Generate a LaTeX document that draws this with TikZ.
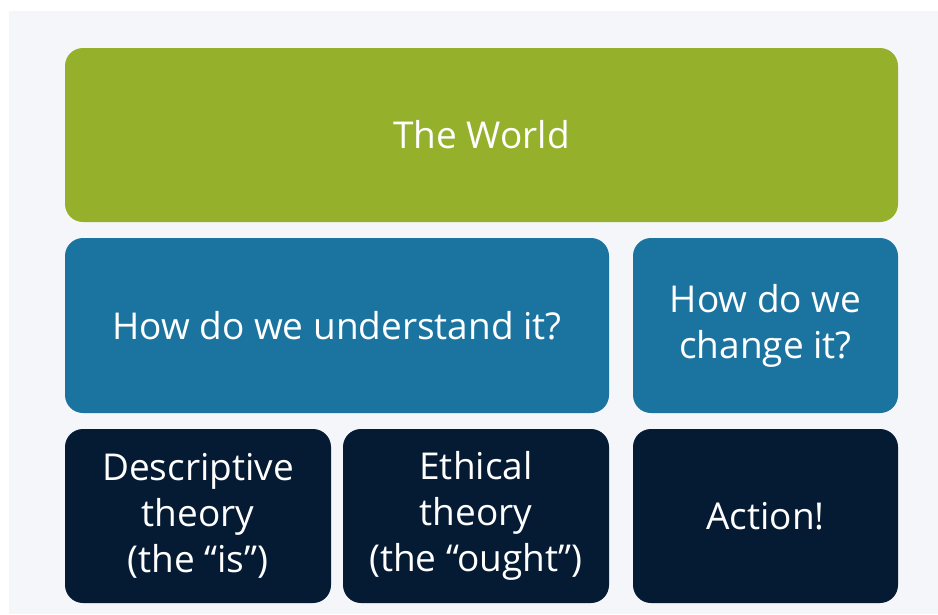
\documentclass[tikz,border=0pt]{standalone}
\usepackage{fontspec}
\setmainfont{Open Sans}
\usepackage{tikz}
\usetikzlibrary{positioning}
\definecolor{worldgreen}{HTML}{95B02A}
\definecolor{askblue}{HTML}{1B74A0}
\definecolor{deepnavy}{HTML}{051A33}
\definecolor{slidegray}{HTML}{F5F6F9}
\tikzset{tile/.style={rectangle,rounded corners=18pt,inner sep=0pt,outer sep=0pt,
    text=white,align=center,font=\fontsize{37}{46}\selectfont},
  worldtile/.style={tile,fill=worldgreen},
  asktile/.style={tile,fill=askblue,minimum height=175pt},
  answertile/.style={tile,fill=deepnavy,minimum height=174pt}}

\begin{document}
\begin{tikzpicture}[x=1pt,y=-1pt,line cap=round]

  \useasboundingbox [fill=white] (0,0) rectangle (938,614);
  \fill [slidegray] (9,11) rectangle (938,614);

  \node [worldtile,minimum width=833pt,minimum height=174pt] (world) at (481.5,135) {The World};

  \node [asktile,minimum width=544pt] (understand) at (337,325.5) {How do we understand it?};
  \node [asktile,minimum width=265pt] (change) at (765.5,325.5) {How do we\\change it?};

  \node [answertile,minimum width=266pt] (descriptive) at (198,516) {Descriptive\\theory\\(the “is”)};
  \node [answertile,minimum width=266pt] (ethical) at (476,516) {Ethical\\theory\\(the “ought”)};
  \node [answertile,minimum width=265pt] (action) at (765.5,516) {Action!};

\end{tikzpicture}
\end{document}
